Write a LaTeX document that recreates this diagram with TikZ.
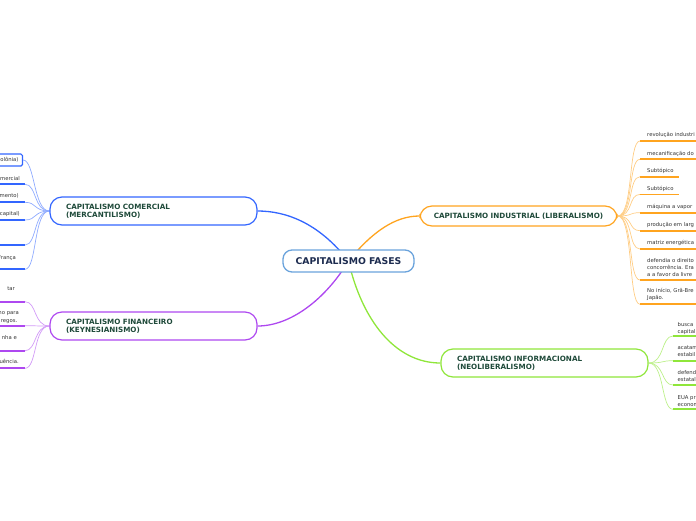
\documentclass[tikz,border=0pt]{standalone}
\usepackage{fontspec}
\setmainfont{DejaVu Sans}
\usetikzlibrary{backgrounds}
\definecolor{mmroot}{HTML}{6AA3DC}
\definecolor{mmnavy}{HTML}{1C2B4F}
\definecolor{mmgreen}{HTML}{1F4A3A}
\definecolor{mmblue}{HTML}{3366FF}
\definecolor{mmpurple}{HTML}{AE48F0}
\definecolor{mmorange}{HTML}{FFA41F}
\definecolor{mmlime}{HTML}{8FE63A}
\definecolor{mmtext}{HTML}{333333}

\begin{document}
\begin{tikzpicture}[x=1pt, y=-1pt,
  every node/.style={font=\fontsize{5.3}{7.2}\selectfont},
  root/.style={rectangle, draw=mmroot, line width=1.3pt, fill=white, rounded corners=9pt, minimum width=131pt, minimum height=22pt, font=\fontsize{9.3}{11}\selectfont\bfseries, text=mmnavy},
  topic/.style={rectangle, line width=1.2pt, fill=white, rounded corners=12pt, minimum height=28pt, text width=175pt, inner xsep=16pt, align=left, font=\fontsize{7.2}{8.4}\selectfont\bfseries, text=mmgreen},
  subr/.style={anchor=base west, inner sep=0pt, align=left, text=mmtext},
  subl/.style={anchor=base east, inner sep=0pt, align=right, text=mmtext},
  link/.style={line width=1.3pt},
  twig/.style={line width=0.7pt},
  uline/.style={line width=1.8pt},
]
\useasboundingbox (0,0) rectangle (696,520);
\clip (0,0) rectangle (696,520);

\node[root] (root) at (348.5,261) {CAPITALISMO FASES};
\node[topic, draw=mmblue] (com) at (153.5,211) {CAPITALISMO COMERCIAL\\(MERCANTILISMO)};
\node[topic, draw=mmpurple] (fin) at (153.5,326) {CAPITALISMO FINANCEIRO\\(KEYNESIANISMO)};
\node[topic, draw=mmorange, minimum height=20pt, text width=181pt, inner xsep=8pt, align=center] (ind) at (518.5,216) {CAPITALISMO INDUSTRIAL (LIBERALISMO)};
\node[topic, draw=mmlime] (inf) at (544.5,363) {CAPITALISMO INFORMACIONAL\\(NEOLIBERALISMO)};

\node[subl, anchor=east, draw=mmblue, line width=1.2pt, rounded corners=1.5pt, inner xsep=4pt, minimum height=12pt, text width=40pt] (c1) at (23,160) {olônia)};
\coordinate (c2) at (25,184.3);
\node[subl] (c2t) at (20,180) {mercial};
\coordinate (c3) at (25,202.3);
\node[subl] (c3t) at (19,197.5) {mento)};
\coordinate (c4) at (25,220);
\node[subl] (c4t) at (20,215) {capital)};
\coordinate (c5) at (25,245);
\coordinate (c6) at (25,269.3);
\node[subl] (c6t) at (16,259) {França};
\foreach \c in {c2,c3,c4,c5,c6}
  \draw[uline, mmblue] (\c) -- ++(-30,0);

\coordinate (f1) at (25,301.7);
\node[subl] (f1t) at (15,290.8) {tar};
\coordinate (f2) at (25,325.7);
\node[subl] (f2t) at (19,322) {no para\\regos.\hspace*{1.5pt}};
\coordinate (f3) at (25,350.7);
\node[subl] (f3t) at (17,339) {nha e};
\coordinate (f4) at (25,368.3);
\node[subl] (f4t) at (19,363.5) {uência.};
\foreach \f in {f1,f2,f3,f4}
  \draw[uline, mmpurple] (\f) -- ++(-30,0);

\coordinate (i1) at (640,141);
\node[subr] (i1t) at (647,136.8) {revolução industri};
\coordinate (i2) at (640,159.3);
\node[subr] (i2t) at (647,155) {mecanificação do};
\coordinate (i3) at (640,176.7);
\node[subr] (i3t) at (647,172.5) {Subtópico};
\coordinate (i4) at (640,194.4);
\node[subr] (i4t) at (647,190.8) {Subtópico};
\coordinate (i5) at (640,212.7);
\node[subr] (i5t) at (647,208.5) {máquina a vapor};
\coordinate (i6) at (640,230.7);
\node[subr] (i6t) at (647,226) {produção em larg};
\coordinate (i7) at (640,249);
\node[subr] (i7t) at (647,244.5) {matriz energética};
\coordinate (i8) at (640,280);
\node[subr] (i8t) at (647,276.9) {defendia o direito\\concorrência. Era\\a a favor da livre};
\coordinate (i9) at (640,304.3);
\node[subr] (i9t) at (647,299.7) {No início, Grã-Bre\\Japão.};
\foreach \i in {i1,i2,i5,i6,i7,i8,i9}
  \draw[uline, mmorange] (\i) -- ++(60,0);
\draw[uline, mmorange] (i3) -- ++(39,0);
\draw[uline, mmorange] (i4) -- ++(39,0);

\coordinate (n1) at (673,336);
\node[subr] (n1t) at (677.5,333.2) {busca\\capital};
\coordinate (n2) at (673,360.7);
\node[subr] (n2t) at (677.5,356.2) {acatam\\estabil};
\coordinate (n3) at (673,385);
\node[subr] (n3t) at (677.5,381.7) {defend\\estatal};
\coordinate (n4) at (673,409.3);
\node[subr] (n4t) at (677.5,406.2) {EUA pr\\econom};
\foreach \n in {n1,n2,n3,n4}
  \draw[uline, mmlime] (\n) -- ++(30,0);

\begin{scope}[on background layer]
\draw[link, mmblue] (root.center) .. controls (318,222) and (285,211) .. (com.east);
\draw[link, mmpurple] (root.center) .. controls (325,300) and (290,326) .. (fin.east);
\draw[link, mmorange] (root.center) .. controls (372,232) and (395,216) .. (ind.west);
\draw[link, mmlime] (root.center) .. controls (362,320) and (395,363) .. (inf.west);

\draw[twig, mmblue!55] (com.west) .. controls +(-16,0) and +(12,0) .. (c1.east);
\foreach \c in {c2,c3,c4,c5,c6}
  \draw[twig, mmblue!55] (com.west) .. controls +(-16,0) and +(12,0) .. (\c);
\foreach \f in {f1,f2,f3,f4}
  \draw[twig, mmpurple!55] (fin.west) .. controls +(-16,0) and +(12,0) .. (\f);
\foreach \i in {i1,i2,i3,i4,i5,i6,i7,i8,i9}
  \draw[twig, mmorange!55] (ind.east) .. controls +(16,0) and +(-12,0) .. (\i);
\foreach \n in {n1,n2,n3,n4}
  \draw[twig, mmlime!60] (inf.east) .. controls +(16,0) and +(-12,0) .. (\n);
\end{scope}
\end{tikzpicture}
\end{document}
